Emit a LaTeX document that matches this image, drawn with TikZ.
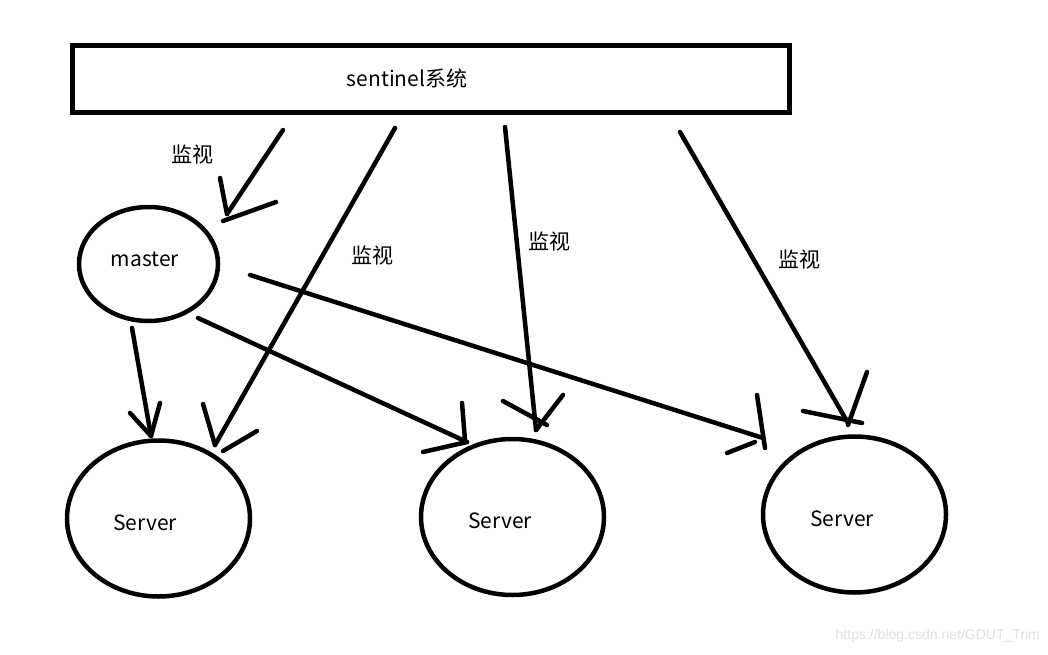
\documentclass[tikz,border=0pt]{standalone}
\usepackage{fontspec}
\setmainfont{Noto Sans CJK SC}
\newfontfamily\wmfont{Liberation Sans}
\usetikzlibrary{shapes.geometric}
\tikzset{
  stroke/.style={line width=4.5pt, line cap=round, line join=round},
  boxnode/.style={draw, line width=5pt, minimum width=717pt, minimum height=67pt, inner sep=0pt},
  ell/.style={draw, ellipse, line width=4.5pt, inner sep=0pt},
  txt/.style={font=\fontsize{21}{25}\selectfont, inner sep=0pt},
}
\begin{document}
\begin{tikzpicture}[x=1pt, y=-1pt]
\useasboundingbox[fill=white] (0,0) rectangle (1048,655);

% nodes
\node[boxnode] (sentinel) at (431,79.5) {};
\node[txt] (sentlabel) at (407,78) {sentinel系统};
\node[ell, minimum width=139pt, minimum height=114pt] (master) at (148.5,264) {};
\node[txt] (mastertext) at (145,259) {master};
\node[ell, minimum width=183pt, minimum height=156pt] (s1) at (158.5,518.5) {};
\node[ell, minimum width=183pt, minimum height=156pt] (s2) at (512.5,517) {};
\node[ell, minimum width=183pt, minimum height=156pt] (s3) at (854.5,514.5) {};
\node[txt] (s1text) at (145,523) {Server};
\node[txt] (s2text) at (500,521) {Server};
\node[txt] (s3text) at (842,519) {Server};

% labels
\node[txt] (l1) at (192,155) {监视};
\node[txt] (l2) at (372,256) {监视};
\node[txt] (l3) at (549,242) {监视};
\node[txt] (l4) at (799,260) {监视};

% arrow tips
\coordinate (t1) at ([shift={(78.5,-50)}]master.center);
\coordinate (t2) at ([shift={(56.5,-73.5)}]s1.center);
\coordinate (t3) at ([shift={(23.5,-87)}]s2.center);
\coordinate (t4) at ([shift={(-6.5,-91.5)}]s3.center);
\coordinate (t5) at ([shift={(-7.5,-82.5)}]s1.center);
\coordinate (t6) at ([shift={(-45.5,-75)}]s2.center);
\coordinate (t7) at ([shift={(-91.5,-76.5)}]s3.center);

% sentinel -> master
\draw[stroke] ([shift={(-148,50.5)}]sentinel.center) -- (t1);
\draw[stroke] ([shift={(-7,-36)}]t1) -- (t1);
\draw[stroke] ([shift={(-4,7)}]t1) -- ([shift={(49,-12)}]t1);
% sentinel -> server1
\draw[stroke] ([shift={(-36,48.5)}]sentinel.center) -- (t2);
\draw[stroke] ([shift={(-12,-41)}]t2) -- (t2);
\draw[stroke] ([shift={(8,6)}]t2) -- ([shift={(42,-14)}]t2);
% sentinel -> server2
\draw[stroke] ([shift={(74,47.5)}]sentinel.center) -- (t3);
\draw[stroke] ([shift={(-33,-29)}]t3) -- ([shift={(11,-5)}]t3);
\draw[stroke] ([shift={(27,-35)}]t3) -- (t3);
% sentinel -> server3
\draw[stroke] ([shift={(249,52.5)}]sentinel.center) -- (t4);
\draw[stroke] ([shift={(-45,-12)}]t4) -- ([shift={(14,0)}]t4);
\draw[stroke] ([shift={(19,-51)}]t4) -- ([shift={(0,2)}]t4);
% master -> server1
\draw[stroke] ([shift={(-16.5,64)}]master.center) -- (t5);
\draw[stroke] ([shift={(-21,-23)}]t5) -- (t5) -- ([shift={(9,-33)}]t5);
% master -> server2
\draw[stroke] ([shift={(49.5,54)}]master.center) -- (t6);
\draw[stroke] ([shift={(-5,-39)}]t6) -- ([shift={(-2,-2)}]t6);
\draw[stroke] ([shift={(-44,10)}]t6) -- (t6);
% master -> server3
\draw[stroke] ([shift={(101.5,11)}]master.center) -- (t7);
\draw[stroke] ([shift={(-6,-43)}]t7) -- ([shift={(2,10)}]t7);
\draw[stroke] ([shift={(-36,15)}]t7) -- ([shift={(-8,4)}]t7);

% watermark
\node[text=black!12, font=\fontsize{14}{16}\selectfont\wmfont, anchor=east, inner sep=0pt] (wm) at (1040,636) {https://blog.csdn.net/GDUT\_Trim};
\end{tikzpicture}
\end{document}
